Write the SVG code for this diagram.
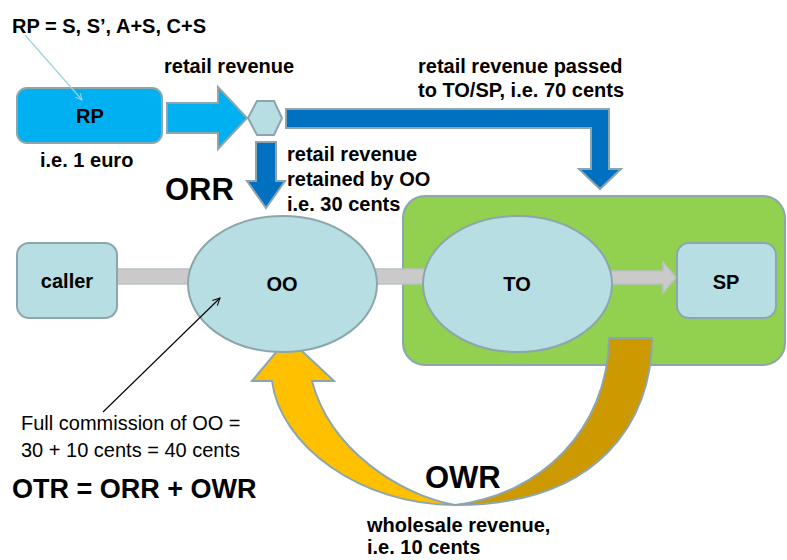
<svg xmlns="http://www.w3.org/2000/svg" width="787" height="560" viewBox="0 0 787 560">
  <defs>
    <style>
      text { font-family: "Liberation Sans", Arial, sans-serif; fill: #000; }
      .b { font-weight: bold; font-size: 20px; }
      .r { font-size: 20px; }
      .big { font-weight: bold; font-size: 31px; }
      .node { fill: #B7DEE2; stroke: #8CA6AC; stroke-width: 2; }
      .flow { stroke: #8CA6AC; stroke-width: 2; stroke-linejoin: miter; }
      .bar { fill: #CACACA; stroke: #B9C2C4; stroke-width: 1.5; }
    </style>
    <marker id="headBlue" viewBox="0 0 10 10" refX="9" refY="5" markerWidth="8" markerHeight="8" orient="auto" markerUnits="userSpaceOnUse">
      <path d="M1,1 L9,5 L1,9" fill="none" stroke="#9ED3DD" stroke-width="1.2"/>
    </marker>
    <marker id="headBlack" viewBox="0 0 10 10" refX="9" refY="5" markerWidth="9" markerHeight="9" orient="auto" markerUnits="userSpaceOnUse">
      <path d="M1,1 L9,5 L1,9" fill="none" stroke="#000" stroke-width="1.1"/>
    </marker>
  </defs>

  <!-- operator domain containing TO and SP -->
  <g id="domain">
    <rect x="403" y="196" width="382" height="169" rx="22" fill="#92D050" stroke="#8CA6AC" stroke-width="2"/>
  </g>

  <!-- connectors and money flows -->
  <g id="connectors">
    <rect class="bar" x="116" y="269" width="76" height="15"/>
    <rect class="bar" x="374" y="269" width="52" height="15"/>
    <polygon class="bar" points="611,271 663,271 663,262 676,277.5 663,293 663,284 611,284"/>

    <!-- retail revenue into the split -->
    <polygon class="flow" fill="#00B0F0" points="167,103 218,103 218,87 247,118 218,149 218,133 167,133"/>
    <!-- retained by OO -->
    <polygon class="flow" fill="#0070C0" points="256,142 276,142 276,181 285,181 266,208 247,181 256,181"/>
    <!-- passed on to TO/SP -->
    <polygon class="flow" fill="#0070C0" points="286,109 609,109 609,169 621,169 600,189 579,169 591,169 591,128 286,128"/>

    <!-- wholesale revenue back to OO -->
    <path class="flow" fill="#CC9900" d="M609,338 H652 C652,420 600,505 455,505 C540,495 608,430 609,338 Z"/>
    <path class="flow" fill="#FFC000" d="M272,381 L252,381 L288,338 L334,381 L312,381 C330,450 400,495 455,505 C360,505 280,445 272,381 Z"/>
  </g>

  <g id="rp">
    <rect x="17" y="88" width="145" height="55" rx="10" fill="#00B0F0" stroke="#8CA6AC" stroke-width="2"/>
    <text class="b" x="90" y="123" text-anchor="middle">RP</text>
  </g>
  <g id="split">
    <polygon class="node" points="248,118 257,101 274,101 282,118 274,135 257,135"/>
  </g>
  <g id="caller">
    <rect class="node" x="17" y="243" width="100" height="75" rx="12"/>
    <text class="b" x="67" y="288" text-anchor="middle">caller</text>
  </g>
  <g id="oo">
    <ellipse class="node" cx="282.5" cy="284" rx="94.5" ry="68"/>
    <text class="b" x="282" y="291" text-anchor="middle">OO</text>
  </g>
  <g id="to">
    <ellipse class="node" cx="517.5" cy="284" rx="94.5" ry="68"/>
    <text class="b" x="517" y="291" text-anchor="middle">TO</text>
  </g>
  <g id="sp">
    <rect class="node" x="677" y="243" width="99" height="75" rx="12"/>
    <text class="b" x="726" y="289" text-anchor="middle">SP</text>
  </g>

  <!-- callout pointers drawn over the nodes -->
  <g id="callouts">
    <line x1="25" y1="35" x2="82" y2="100" stroke="#9ED3DD" stroke-width="1.2" marker-end="url(#headBlue)"/>
    <line x1="103" y1="412" x2="220" y2="298" stroke="#000" stroke-width="1.1" marker-end="url(#headBlack)"/>
  </g>

  <!-- labels -->
  <g id="labels">
    <text class="b" x="12" y="33">RP = S, S’, A+S, C+S</text>
    <text class="b" x="164" y="73">retail revenue</text>
    <text class="b" x="418" y="73">retail revenue passed</text>
    <text class="b" x="418" y="97">to TO/SP, i.e. 70 cents</text>
    <text class="b" x="40" y="167">i.e. 1 euro</text>
    <text class="b" x="287" y="161">retail revenue</text>
    <text class="b" x="287" y="186">retained by OO</text>
    <text class="b" x="287" y="211">i.e. 30 cents</text>
    <text class="big" x="165" y="200">ORR</text>
    <text class="r" x="21" y="430">Full commission of OO =</text>
    <text class="r" x="21" y="457">30 + 10 cents = 40 cents</text>
    <text x="12" y="498" font-weight="bold" font-size="27">OTR = ORR + OWR</text>
    <text class="big" x="425" y="488">OWR</text>
    <text class="b" x="367" y="532">wholesale revenue,</text>
    <text class="b" x="367" y="554">i.e. 10 cents</text>
  </g>
</svg>
